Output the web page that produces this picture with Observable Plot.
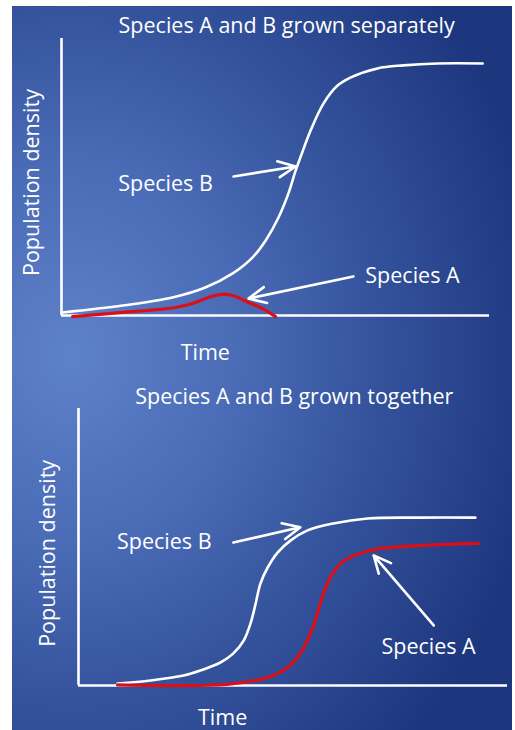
<!DOCTYPE html>
<html>
<head>
<meta charset="utf-8">
<script src="https://cdn.jsdelivr.net/npm/d3@7"></script>
<script src="https://cdn.jsdelivr.net/npm/@observablehq/plot@0.6"></script>
<style>
  html, body { margin: 0; padding: 0; background: #fff; }
  #wrap { position: relative; width: 515px; height: 730px; overflow: hidden; background: #fff; }
  #bg { position: absolute; left: 12px; top: 6px; width: 500px; height: 724px;
        background: radial-gradient(ellipse 95% 75% at 12% 48%, #5e82ca 0%, #4a6bb6 35%, #34529c 65%, #1d377f 100%); }
  .panel { position: absolute; left: 0; }
  #p1 { top: 0; }
  #p2 { top: 365px; }
</style>
</head>
<body>
<div id="wrap"><div id="bg"></div><div id="p1" class="panel"></div><div id="p2" class="panel"></div></div>
<script>
// Panel 1: grown separately (time 0-100, density 0-100)
const sepTimeB = [0.2, 14.3, 25.9, 33.6, 40, 44.6, 47.7, 50.7, 53, 54.7, 55.8, 58.2, 61.2, 64.5, 67.5, 73.8, 79.9, 87.9, 98.4];
const sepDensB = [1.1, 3.6, 6.5, 10.1, 15.2, 20.9, 27.1, 35.4, 44, 52.3, 57, 66.8, 76.5, 83, 85.9, 89.2, 90.3, 91, 91];
const sepTimeA = [2.6, 14.3, 26.6, 30.6, 34.3, 37.6, 40, 43.7, 47, 50];
const sepDensA = [-0.4, 1.1, 2.9, 4.3, 6.5, 7.6, 7.2, 4.7, 2.5, -0.4];

// Panel 2: grown together
const togTimeB = [9.1, 16.8, 24.5, 28.4, 33.1, 36.1, 38.5, 40.1, 41.3, 42.4, 44.1, 46.4, 49.4, 53.4, 59.4, 67.4, 79.7, 92.5];
const togDensB = [0.7, 1.8, 3.6, 5.4, 8.3, 11.6, 16.2, 22.4, 29.6, 36.8, 42.6, 48, 52.3, 56, 58.5, 60.3, 60.6, 60.6];
const togTimeA = [9.1, 28.4, 36.1, 44.1, 48.7, 51.7, 54.1, 55.7, 57.1, 58.7, 61.1, 64.1, 68.1, 70.4, 79, 93.2];
const togDensA = [0.2, 0, 0.7, 2.9, 6.5, 11.6, 18.8, 26, 33.2, 39, 44, 46.9, 48.7, 49.5, 50.5, 51.3];

const titles = ["Species A and B grown separately", "Species A and B grown together"];
const xLabel = "Time";
const yLabel = "Population density";
const seriesLabels = ["Species B", "Species A"];

const FONT = "'Open Sans', Lato, sans-serif";
const FS = 21.5;
const RED = "#dc0f16";

function zip(xs, ys) { return xs.map((x, i) => ({t: x, d: ys[i]})); }

function panel(opts) {
  const {title, B, A, labB, labA, arrB, arrA, titlePos, timePos, densPos, margins} = opts;
  return Plot.plot({
    width: 515, height: 365,
    marginLeft: margins[0], marginRight: margins[1], marginTop: margins[2], marginBottom: margins[3],
    x: {domain: [0, 100], axis: null},
    y: {domain: [0, 100], axis: null},
    style: {background: "transparent", overflow: "visible"},
    marks: [
      Plot.ruleX([0], {y1: 0, y2: 100, stroke: "white", strokeWidth: 2.6}),
      Plot.ruleY([0], {x1: 0, x2: 100, stroke: "white", strokeWidth: 2.6}),
      Plot.line(B, {x: "t", y: "d", stroke: "white", strokeWidth: 2.6, curve: "catmull-rom"}),
      Plot.line(A, {x: "t", y: "d", stroke: RED, strokeWidth: 3.2, curve: "catmull-rom"}),
      Plot.arrow([arrB, arrA], {x1: "x1", y1: "y1", x2: "x2", y2: "y2", stroke: "white", strokeWidth: 2.6, headLength: 11, headAngle: 50}),
      Plot.text([labB, labA], {x: "x", y: "y", text: "s", fill: "white", fontSize: FS, fontFamily: FONT, textAnchor: "middle"}),
      Plot.text([{x: titlePos[0], y: titlePos[1], s: title}], {x: "x", y: "y", text: "s", fill: "white", fontSize: FS, fontFamily: FONT}),
      Plot.text([{x: timePos[0], y: timePos[1], s: xLabel}], {x: "x", y: "y", text: "s", fill: "white", fontSize: FS, fontFamily: FONT}),
      Plot.text([{x: densPos[0], y: densPos[1], s: yLabel}], {x: "x", y: "y", text: "s", fill: "white", fontSize: FS, fontFamily: FONT, rotate: -90})
    ]
  });
}

document.getElementById("p1").appendChild(panel({
  title: titles[0],
  B: zip(sepTimeB, sepDensB), A: zip(sepTimeA, sepDensA),
  labB: {x: 24.3, y: 47.3, s: seriesLabels[0]}, labA: {x: 82, y: 14.1, s: seriesLabels[1]},
  arrB: {x1: 40.2, y1: 50.2, x2: 54.7, y2: 53.8}, arrA: {x1: 68.2, y1: 14.1, x2: 43.7, y2: 6.1},
  titlePos: [52.6, 104.3], timePos: [33.6, -13.4], densPos: [-6.8, 48],
  margins: [61, 26, 38, 50]
}));

document.getElementById("p2").appendChild(panel({
  title: titles[1],
  B: zip(togTimeB, togDensB), A: zip(togTimeA, togDensA),
  labB: {x: 20, y: 51.6, s: seriesLabels[0]}, labA: {x: 81.6, y: 13.7, s: seriesLabels[1]},
  arrB: {x1: 36.1, y1: 51.6, x2: 51.7, y2: 57.1}, arrA: {x1: 82.8, y1: 21.7, x2: 68.8, y2: 47},
  titlePos: [50.3, 104], timePos: [33.6, -11.9], densPos: [-7, 47.7],
  margins: [78, 8, 43, 45]
}));
</script>
</body>
</html>
